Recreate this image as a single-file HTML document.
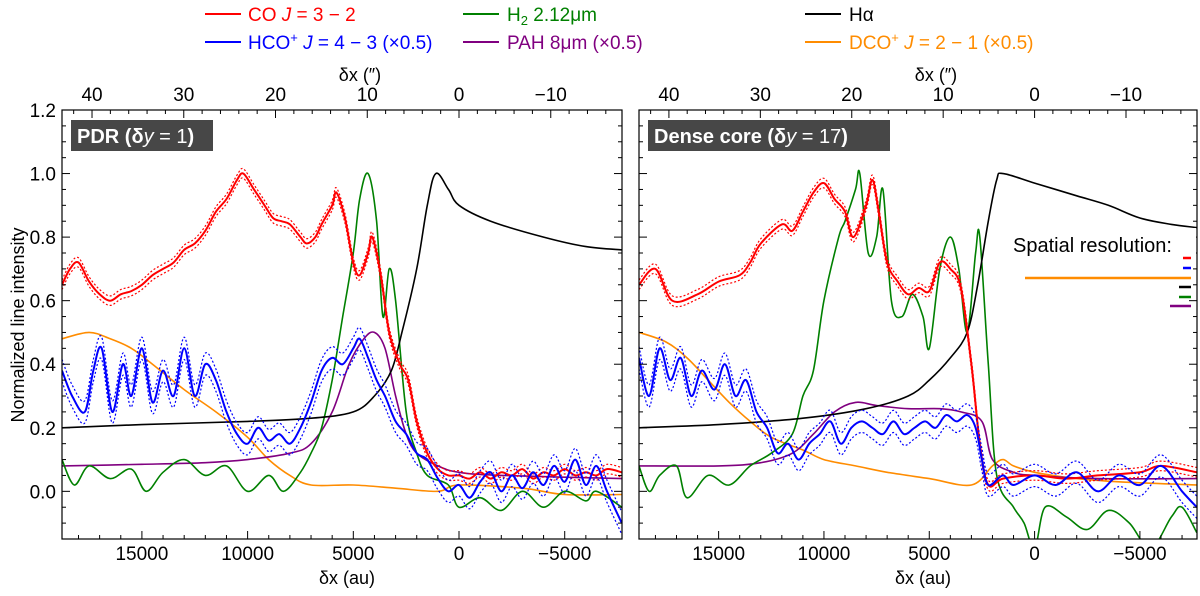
<!DOCTYPE html>
<html><head><meta charset="utf-8">
<style>
body{margin:0;background:#fff;width:1200px;height:591px;overflow:hidden;font-family:"Liberation Sans",sans-serif}
svg text{font-family:"Liberation Sans","DejaVu Sans",sans-serif}
</style></head><body>
<svg id="chart" width="1200" height="591" xmlns="http://www.w3.org/2000/svg">
<g id="legend" font-size="19">
 <g><line x1="205" y1="14" x2="241" y2="14" stroke="#f00" stroke-width="2"/><text x="248" y="21" fill="#f00">CO <tspan font-style="italic">J</tspan> = 3 − 2</text></g>
 <g><line x1="463" y1="14" x2="499" y2="14" stroke="#008000" stroke-width="2"/><text x="507" y="21" fill="#008000">H<tspan font-size="13" dy="4">2</tspan><tspan dy="-4"> 2.12μm</tspan></text></g>
 <g><line x1="805" y1="14" x2="841" y2="14" stroke="#000" stroke-width="2"/><text x="849" y="21" fill="#000">Hα</text></g>
 <g><line x1="205" y1="42" x2="241" y2="42" stroke="#00f" stroke-width="2"/><text x="248" y="49" fill="#00f">HCO<tspan font-size="13" dy="-7">+</tspan><tspan dy="7"> <tspan font-style="italic">J</tspan> = 4 − 3 (×0.5)</tspan></text></g>
 <g><line x1="463" y1="42" x2="499" y2="42" stroke="#800080" stroke-width="2"/><text x="507" y="49" fill="#800080">PAH 8μm (×0.5)</text></g>
 <g><line x1="805" y1="42" x2="841" y2="42" stroke="#ff8c00" stroke-width="2"/><text x="849" y="49" fill="#ff8c00">DCO<tspan font-size="13" dy="-7">+</tspan><tspan dy="7"> <tspan font-style="italic">J</tspan> = 2 − 1 (×0.5)</tspan></text></g>
</g>
<text transform="translate(24,325) rotate(-90)" text-anchor="middle" font-size="18">Normalized line intensity</text>
<g id="panels"></g>
</svg>
<script>
// ----- data -----
const xMinAu = -7710, xMaxAu = 18780, yMin = -0.15, yMax = 1.2;
const yTicks = [0.0, 0.2, 0.4, 0.6, 0.8, 1.0, 1.2];
const yTickLabels = ["0.0","0.2","0.4","0.6","0.8","1.0","1.2"];
const auTicks = [15000, 10000, 5000, 0, -5000];
const auTickLabels = ["15000","10000","5000","0","−5000"];
const asTicks = [40, 30, 20, 10, 0, -10];
const asTickLabels = ["40","30","20","10","0","−10"];
const auPerArcsec = 434;
const panelTitles = ["PDR (δ", "Dense core (δ"];
const errCO = 0.015, errHCO = 0.035;

// Left panel (PDR)
const coL_x = [18780,18400,18000,17500,17000,16500,16000,15500,15000,14500,14000,13500,13000,12500,12000,11500,11000,10500,10200,9700,9200,8800,8400,8000,7500,7200,6800,6500,6000,5800,5400,5000,4700,4300,4100,3700,3300,2800,2400,2000,1500,1000,500,0,-500,-1000,-1500,-2000,-2500,-3000,-3500,-4000,-4500,-5000,-5500,-6000,-6500,-7000,-7700];
const coL_y = [0.65,0.70,0.72,0.66,0.62,0.60,0.62,0.63,0.65,0.68,0.70,0.72,0.76,0.78,0.82,0.88,0.92,0.98,1.0,0.95,0.90,0.86,0.85,0.84,0.80,0.78,0.80,0.84,0.90,0.94,0.86,0.72,0.68,0.75,0.80,0.68,0.50,0.40,0.35,0.22,0.12,0.07,0.05,0.05,0.04,0.06,0.04,0.06,0.05,0.07,0.04,0.06,0.05,0.07,0.05,0.06,0.05,0.07,0.06];
const haL_x = [18780,15000,10000,7000,5000,4000,3200,2700,2000,1500,1100,500,0,-1500,-4000,-6000,-7700];
const haL_y = [0.20,0.21,0.22,0.23,0.25,0.30,0.38,0.50,0.70,0.90,1.0,0.95,0.90,0.85,0.80,0.77,0.76];
const h2L_x = [18780,18200,17500,16500,15500,14800,14000,13000,12000,11000,10000,9000,8300,7500,7000,6500,6000,5500,5000,4700,4300,3900,3600,3300,3000,2500,2000,1500,500,0,-1000,-2000,-3000,-4000,-5000,-6000,-6500,-7700];
const h2L_y = [0.10,0.02,0.08,0.04,0.07,0.0,0.06,0.10,0.05,0.08,0.0,0.05,0.0,0.06,0.12,0.20,0.35,0.55,0.75,0.92,1.0,0.85,0.55,0.70,0.60,0.25,0.12,0.05,0.02,-0.05,-0.02,-0.06,0.0,-0.05,0.0,-0.03,0.0,-0.05];
const pahL_x = [18780,15000,12000,10000,8000,7000,6000,5200,4500,4000,3500,3000,2500,2000,1000,0,-2000,-7700];
const pahL_y = [0.08,0.085,0.09,0.10,0.12,0.15,0.25,0.40,0.48,0.50,0.45,0.30,0.18,0.12,0.08,0.06,0.05,0.04];
const dcoL_x = [18780,17500,16500,15500,14500,13000,11500,10000,9000,8000,7000,5000,3000,1000,0,-3000,-5000,-7700];
const dcoL_y = [0.48,0.50,0.48,0.45,0.40,0.32,0.25,0.17,0.10,0.05,0.02,0.02,0.01,0.0,0.02,0.01,-0.01,-0.01];
const hcoL_x = [18780,18300,17700,17300,16900,16400,15900,15500,15000,14500,14000,13500,13000,12500,12000,11500,11000,10500,10000,9500,9000,8500,8000,7500,7000,6500,6000,5500,5000,4700,4300,3900,3500,3000,2500,2000,1500,1000,500,0,-500,-1000,-1500,-2000,-2500,-3000,-3500,-4000,-4500,-5000,-5500,-6000,-6500,-7000,-7700];
const hcoL_y = [0.38,0.30,0.25,0.38,0.45,0.25,0.40,0.30,0.45,0.28,0.38,0.30,0.45,0.30,0.40,0.35,0.25,0.18,0.15,0.20,0.16,0.18,0.15,0.20,0.28,0.38,0.42,0.40,0.45,0.48,0.42,0.35,0.30,0.22,0.18,0.12,0.10,0.04,0.0,0.02,-0.02,0.03,0.06,0.0,0.05,0.01,0.06,0.02,0.08,0.03,0.10,0.02,0.08,0.0,-0.10];

// Right panel (Dense core)
const coR_x = [18780,18000,17200,16000,15000,14000,13500,13000,12000,11500,11000,10500,10000,9500,9000,8600,8000,7700,7400,7000,6500,6000,5500,5000,4500,4000,3500,3000,2600,2200,1500,0,-1500,-3000,-5000,-6000,-7700];
const coR_y = [0.65,0.70,0.60,0.62,0.66,0.68,0.72,0.78,0.84,0.82,0.88,0.94,0.97,0.92,0.88,0.80,0.90,0.98,0.88,0.72,0.66,0.62,0.64,0.63,0.72,0.70,0.64,0.40,0.15,0.02,0.04,0.05,0.04,0.05,0.06,0.08,0.06];
const haR_x = [18780,15000,11000,8000,6000,5000,4000,3200,2700,2200,1800,1500,0,-2000,-3500,-5000,-6500,-7700];
const haR_y = [0.20,0.21,0.23,0.26,0.30,0.35,0.42,0.50,0.65,0.85,0.98,1.0,0.97,0.93,0.90,0.86,0.84,0.83];
const h2R_x = [18780,18300,17800,17000,16500,15500,14500,13500,12500,11500,11000,10500,10000,9300,9000,8500,8300,7900,7500,7200,6800,6300,5800,5300,5000,4500,4000,3600,3200,2800,2600,2200,1800,1000,500,0,-500,-1500,-2500,-3500,-4500,-5500,-6500,-7000,-7700];
const h2R_y = [0.08,0.0,0.05,0.08,-0.02,0.05,0.02,0.08,0.12,0.18,0.30,0.38,0.60,0.80,0.85,0.95,1.0,0.75,0.80,0.95,0.60,0.55,0.62,0.55,0.45,0.70,0.80,0.70,0.50,0.75,0.80,0.40,0.05,-0.05,-0.10,-0.18,-0.05,-0.08,-0.12,-0.06,-0.10,-0.18,-0.08,-0.05,-0.13];
const pahR_x = [18780,15000,13000,11500,10500,9500,8500,7500,6000,4500,3500,2500,2000,1000,0,-3000,-7700];
const pahR_y = [0.08,0.08,0.09,0.12,0.18,0.25,0.28,0.27,0.26,0.26,0.25,0.22,0.10,0.06,0.05,0.04,0.04];
const dcoR_x = [18780,17500,16500,15500,14500,13500,12500,11000,10000,8500,7000,5000,3000,2000,1500,1000,0,-2000,-4000,-7700];
const dcoR_y = [0.50,0.47,0.42,0.35,0.28,0.22,0.17,0.13,0.10,0.08,0.06,0.04,0.02,0.08,0.10,0.08,0.06,0.04,0.03,0.02];
const hcoR_x = [18780,18300,17800,17300,16800,16300,15800,15200,14700,14200,13700,13200,12700,12200,11700,11200,10700,10200,9700,9200,8700,8200,7700,7200,6700,6200,5700,5200,4700,4200,3700,3200,2800,2500,2200,1500,1000,0,-1000,-2000,-3000,-4000,-5000,-6000,-7000,-7700];
const hcoR_y = [0.42,0.30,0.45,0.35,0.42,0.30,0.38,0.32,0.40,0.30,0.35,0.25,0.20,0.12,0.15,0.10,0.15,0.18,0.22,0.15,0.20,0.22,0.20,0.18,0.22,0.18,0.20,0.22,0.20,0.24,0.22,0.24,0.20,0.10,0.02,0.05,0.02,0.05,0.02,0.06,0.0,0.05,0.02,0.08,0.0,-0.05];

// ----- drawing -----
const NS = "http://www.w3.org/2000/svg";
const panelsG = document.getElementById('panels');
const T = 110, B = 539;
function mk(tag, attrs, parent){const e=document.createElementNS(NS,tag);for(const k in attrs)e.setAttribute(k,attrs[k]);parent.appendChild(e);return e;}

function makePanel(idx, L, R, series, yval){
  const g = mk('g',{},panelsG);
  
  
  const xs = au => L + (xMaxAu - au)/(xMaxAu - xMinAu)*(R-L);
  const ys = v => B - (v - yMin)/(yMax - yMin)*(B-T);
  const clipId = 'clip'+idx;
  const cp = mk('clipPath',{id:clipId},g); mk('rect',{x:L,y:T,width:R-L,height:B-T},cp);
  function path(xa, ya, off){
    const p = xa.map((x,i)=>[xs(x), ys(ya[i]+off)]);
    let d = 'M'+p[0][0].toFixed(1)+','+p[0][1].toFixed(1);
    for(let i=0;i<p.length-1;i++){
      const p0=p[Math.max(0,i-1)],p1=p[i],p2=p[i+1],p3=p[Math.min(p.length-1,i+2)];
      const c1x=p1[0]+(p2[0]-p0[0])/6,c1y=p1[1]+(p2[1]-p0[1])/6;
      const c2x=p2[0]-(p3[0]-p1[0])/6,c2y=p2[1]-(p3[1]-p1[1])/6;
      d+=' C'+c1x.toFixed(1)+','+c1y.toFixed(1)+' '+c2x.toFixed(1)+','+c2y.toFixed(1)+' '+p2[0].toFixed(1)+','+p2[1].toFixed(1);
    }
    return d;
  }
  const lines = mk('g',{'clip-path':'url(#'+clipId+')'},g);
  series.forEach(s=>{
    if(s.err){
      [-1,1].forEach(sg=>{
        const e = mk('path',{d:path(s.x,s.y,sg*s.err),fill:'none',stroke:s.c,'stroke-width':1.2,'stroke-dasharray':'2,2'},lines);
        
        
      });
    }
    const e = mk('path',{d:path(s.x,s.y,0),fill:'none',stroke:s.c,'stroke-width':s.w||1.6},lines);
    
    
  });
  const fr = mk('rect',{x:L,y:T,width:R-L,height:B-T,fill:'none',stroke:'#000','stroke-width':1.2},g);
  
  
  for(let v=-0.1; v<=1.2001; v+=0.05){
    const y=ys(v), major = Math.abs(Math.round(v*5)-v*5)<1e-6;
    const len = major?8:4;
    mk('line',{x1:L,y1:y,x2:L+len,y2:y,stroke:'#000'},g);
    mk('line',{x1:R,y1:y,x2:R-len,y2:y,stroke:'#000'},g);
  }
  if(idx===0){
    yTicks.forEach((v,i)=>{
      const t = mk('text',{x:L-6,y:ys(v)+7,'text-anchor':'end','font-size':19},g);
      t.textContent = yTickLabels[i];
      
      
    });
  }
  for(let a=-7000;a<=18000;a+=1000){
    const x=xs(a), major=a%5000===0;
    mk('line',{x1:x,y1:B,x2:x,y2:B-(major?8:4),stroke:'#000'},g);
  }
  auTicks.forEach((a,i)=>{
    const t = mk('text',{x:xs(a),y:B+21,'text-anchor':'middle','font-size':19},g);
    t.textContent = auTickLabels[i];
    
    
  });
  const xt = mk('text',{x:(L+R)/2+5,y:B+45,'text-anchor':'middle','font-size':18},g);
  xt.textContent='δx (au)';
  
  
  const as2au = s => s*auPerArcsec;
  for(let s=-18;s<=44;s+=2){
    const x=xs(as2au(s)); if(x<L||x>R) continue;
    const major=s%10===0;
    mk('line',{x1:x,y1:T,x2:x,y2:T+(major?8:4),stroke:'#000'},g);
  }
  asTicks.forEach((s,i)=>{
    const t = mk('text',{x:xs(as2au(s)),y:T-9,'text-anchor':'middle','font-size':19},g);
    t.textContent = asTickLabels[i];
    
    
  });
  const tt = mk('text',{x:(L+R)/2+18,y:T-29,'text-anchor':'middle','font-size':18},g);
  tt.textContent='δx (″)';
  
  
  const bw = idx===0?142:242;
  const bx = mk('rect',{x:L+9,y:T+10,width:bw,height:31,fill:'#474747'},g);
  
  
  const ti = mk('text',{x:L+15,y:T+33,fill:'#fff','font-size':20,'font-weight':'bold'},g);
  
  
  const t1 = mk('tspan',{},ti); t1.textContent = panelTitles[idx];
  const t2 = mk('tspan',{'font-style':'italic','font-weight':'normal'},ti); t2.textContent = 'y';
  const t3 = mk('tspan',{'font-weight':'normal'},ti); t3.textContent = ' = ' + yval;
  const t4 = mk('tspan',{},ti); t4.textContent = ')';
  return {g, xs, ys};
}

const left = makePanel(0, 62, 622, [
  {n:'dco',x:dcoL_x,y:dcoL_y,c:'#ff8c00'},
  {n:'pah',x:pahL_x,y:pahL_y,c:'#800080'},
  {n:'h2',x:h2L_x,y:h2L_y,c:'#008000'},
  {n:'halpha',x:haL_x,y:haL_y,c:'#000'},
  {n:'co',x:coL_x,y:coL_y,c:'#f00',err:errCO,w:2},
  {n:'hco',x:hcoL_x,y:hcoL_y,c:'#00f',err:errHCO,w:2}
], 1);
const right = makePanel(1, 639, 1197, [
  {n:'dco',x:dcoR_x,y:dcoR_y,c:'#ff8c00'},
  {n:'pah',x:pahR_x,y:pahR_y,c:'#800080'},
  {n:'h2',x:h2R_x,y:h2R_y,c:'#008000'},
  {n:'halpha',x:haR_x,y:haR_y,c:'#000'},
  {n:'co',x:coR_x,y:coR_y,c:'#f00',err:errCO,w:2},
  {n:'hco',x:hcoR_x,y:hcoR_y,c:'#00f',err:errHCO,w:2}
], 17);

const sr = mk('g',{},right.g);


mk('rect',{x:1010,y:228,width:186,height:26,fill:'#fff'},sr);
const st = mk('text',{x:1013,y:252,'font-size':20},sr);
st.textContent='Spatial resolution:';
const bars = [[1183,258,'#f00'],[1183,268,'#00f'],[1025,278,'#ff8c00'],[1179,287,'#000'],[1179,297,'#008000'],[1170,306,'#800080']];
bars.forEach(b=>{
  const l = mk('line',{x1:b[0],y1:b[1],x2:1191,y2:b[1],stroke:b[2],'stroke-width':2.5},sr);
  
  
});
</script>
</body></html>
